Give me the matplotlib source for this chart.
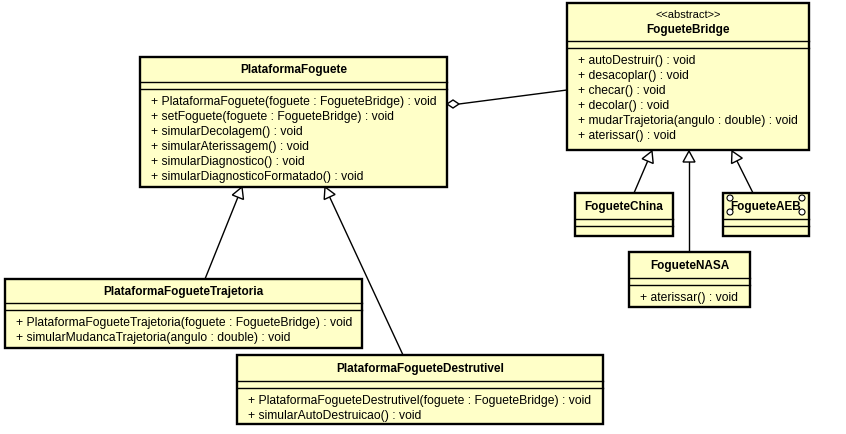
import matplotlib
matplotlib.use("Agg")
import matplotlib.pyplot as plt
from matplotlib.patches import Rectangle, Polygon, Circle
import numpy as np

plt.rcParams['font.family'] = ['Liberation Sans', 'DejaVu Sans']

W, H = 846, 434
fig = plt.figure(figsize=(W/100, H/100), dpi=100)
ax = fig.add_axes([0, 0, 1, 1])
ax.set_xlim(0, W); ax.set_ylim(H, 0); ax.axis('off')

FILL = '#ffffc8'

class_names = ["PlataformaFoguete", "FogueteBridge", "FogueteChina", "FogueteAEB",
               "FogueteNASA", "PlataformaFogueteTrajetoria", "PlataformaFogueteDestrutivel"]
stereotypes = ["", "<<abstract>>", "", "", "", "", ""]
operations = [
    ["+ PlataformaFoguete(foguete : FogueteBridge) : void",
     "+ setFoguete(foguete : FogueteBridge) : void",
     "+ simularDecolagem() : void",
     "+ simularAterissagem() : void",
     "+ simularDiagnostico() : void",
     "+ simularDiagnosticoFormatado() : void"],
    ["+ autoDestruir() : void", "+ desacoplar() : void", "+ checar() : void",
     "+ decolar() : void", "+ mudarTrajetoria(angulo : double) : void", "+ aterissar() : void"],
    [], [],
    ["+ aterissar() : void"],
    ["+ PlataformaFogueteTrajetoria(foguete : FogueteBridge) : void",
     "+ simularMudancaTrajetoria(angulo : double) : void"],
    ["+ PlataformaFogueteDestrutivel(foguete : FogueteBridge) : void",
     "+ simularAutoDestruicao() : void"],
]
# layout: x0, y0, x1, y1, first separator y
boxes = [
    (140, 57, 447, 187, 82),
    (567, 3, 809, 150, 41),
    (575, 193, 673, 236, 219),
    (723, 193, 809, 236, 219),
    (629, 252, 750, 307, 278),
    (5, 279, 362, 348, 303),
    (237, 355, 603, 424, 381),
]

def hollow_triangle(tip, frm):
    tx, ty = tip; fx, fy = frm
    d = np.array([fx - tx, fy - ty], float); d /= np.hypot(*d)
    n = np.array([-d[1], d[0]])
    base = np.array(tip) + d * 11
    p1 = base + n * 6; p2 = base - n * 6
    ax.add_patch(Polygon([tip, p1, p2], closed=True, fc='white', ec='black', lw=1, zorder=3))
    ax.plot([base[0], fx], [base[1], fy], color='black', lw=1, zorder=2)

for (x0, y0, x1, y1, s1), name, st, ops in zip(boxes, class_names, stereotypes, operations):
    ax.add_patch(Rectangle((x0, y0), x1 - x0, y1 - y0, fc=FILL, ec='black', lw=1.7, zorder=5))
    ax.plot([x0, x1], [s1, s1], color='black', lw=1, zorder=6)
    ax.plot([x0, x1], [s1 + 7, s1 + 7], color='black', lw=1, zorder=6)
    cx = (x0 + x1) / 2
    if st:
        ax.text(cx, y0 + 12, st, ha='center', va='center', fontsize=8, zorder=7)
        ax.text(cx, y0 + 27, name, ha='center', va='center', fontsize=8.5, weight='bold', zorder=7)
    else:
        ax.text(cx, (y0 + s1) / 2 + 1, name, ha='center', va='center', fontsize=8.5, weight='bold', zorder=7)
    for i, op in enumerate(ops):
        ax.text(x0 + 11, s1 + 20 + 15 * i, op, ha='left', va='center', fontsize=8.7, zorder=7)

# AEB port circles
for (cx, cy) in [(730, 198), (802, 198), (730, 212), (802, 212)]:
    ax.add_patch(Circle((cx, cy), 3, fc='white', ec='black', lw=0.8, zorder=8))

# aggregation
ax.add_patch(Polygon([(447, 104), (453, 100), (459, 104), (453, 108)], closed=True,
                     fc='white', ec='black', lw=1, zorder=3))
ax.plot([459, 567], [104, 90], color='black', lw=1, zorder=2)

# generalizations
hollow_triangle((242, 187), (205, 279))
hollow_triangle((325, 187), (403, 355))
hollow_triangle((652, 151), (634, 193))
hollow_triangle((689, 151), (689, 252))
hollow_triangle((732, 151), (753, 193))

fig.savefig("out.png", dpi=100, facecolor='white')
